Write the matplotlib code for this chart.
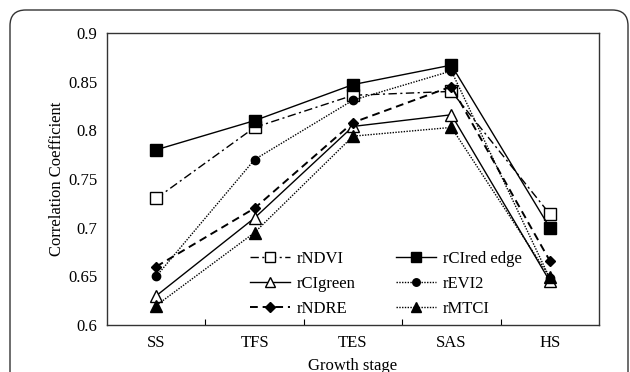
import matplotlib

matplotlib.use("Agg")
import matplotlib.pyplot as plt
from matplotlib.patches import FancyBboxPatch

plt.rcParams["font.family"] = ["Liberation Serif", "DejaVu Serif"]

stages = ["SS", "TFS", "TES", "SAS", "HS"]
r_ndvi = [0.730, 0.803, 0.836, 0.840, 0.714]
r_cired = [0.780, 0.810, 0.847, 0.867, 0.700]
r_cigreen = [0.630, 0.710, 0.804, 0.816, 0.645]
r_evi2 = [0.650, 0.770, 0.831, 0.861, 0.648]
r_ndre = [0.660, 0.720, 0.808, 0.845, 0.666]
r_mtci = [0.620, 0.695, 0.794, 0.803, 0.649]
y_ticks = [0.6, 0.65, 0.7, 0.75, 0.8, 0.85, 0.9]
y_labels = ["0.6", "0.65", "0.7", "0.75", "0.8", "0.85", "0.9"]

fig = plt.figure(figsize=(6.3, 3.72), dpi=100)
fig.patch.set_facecolor("white")

# rounded card frame around the figure
card = FancyBboxPatch(
    (10 / 630, -0.05),
    618 / 630,
    1 - 10 / 372 + 0.05,
    boxstyle="round,pad=0,rounding_size=0.025",
    transform=fig.transFigure,
    facecolor="none",
    edgecolor="#333333",
    linewidth=1.0,
    mutation_aspect=630 / 372,
)
fig.patches.append(card)

ax = fig.add_axes([107 / 630, 1 - 325 / 372, 492 / 630, 292 / 372])
x = list(range(len(stages)))
k = dict(color="black", linewidth=1.0)

h_ndvi, = ax.plot(x, r_ndvi, linestyle=(0, (6, 2.5, 1.5, 2.5)), marker="s", markersize=8,
                  markerfacecolor="white", markeredgecolor="black", label="rNDVI", **k)
h_cired, = ax.plot(x, r_cired, linestyle="-", marker="s", markersize=8,
                   markerfacecolor="black", markeredgecolor="black", label="rCIred edge", **k)
h_cigreen, = ax.plot(x, r_cigreen, linestyle="-", marker="^", markersize=8,
                     markerfacecolor="white", markeredgecolor="black", label="rCIgreen", **k)
h_evi2, = ax.plot(x, r_evi2, linestyle=(0, (1, 1)), marker="o", markersize=6,
                  markerfacecolor="black", markeredgecolor="black", label="rEVI2", **k)
h_ndre, = ax.plot(x, r_ndre, linestyle=(0, (4, 2.5)), marker="D", markersize=5.5,
                  markerfacecolor="black", markeredgecolor="black", label="rNDRE", color="black", linewidth=1.4)
h_mtci, = ax.plot(x, r_mtci, linestyle=(0, (1, 1)), marker="^", markersize=8,
                  markerfacecolor="black", markeredgecolor="black", label="rMTCI", **k)

ax.set_xlim(-0.5, 4.5)
ax.set_ylim(0.6, 0.9)
ax.set_yticks(y_ticks)
ax.set_yticklabels(y_labels)
ax.set_xticks(x)
ax.set_xticklabels(stages)
ax.set_xticks([0.5, 1.5, 2.5, 3.5], minor=True)
ax.tick_params(axis="x", which="major", length=0, pad=7, labelsize=12)
ax.tick_params(axis="x", which="minor", direction="in", length=4, width=0.8)
ax.tick_params(axis="y", length=0, pad=7, labelsize=12)
for s in ax.spines.values():
    s.set_linewidth(1.0)
    s.set_color("#333333")

ax.set_ylabel("Correlation Coefficient", fontsize=12, labelpad=2)
ax.set_xlabel("Growth stage", fontsize=12, labelpad=5)

handles = [h_ndvi, h_cigreen, h_ndre, h_cired, h_evi2, h_mtci]
ax.legend(
    handles=handles,
    labels=[h.get_label() for h in handles],
    ncol=2,
    frameon=False,
    fontsize=12,
    loc="lower left",
    bbox_to_anchor=(0.26, -0.025),
    handlelength=2.4,
    handletextpad=0.4,
    columnspacing=2.45,
    labelspacing=0.55,
    markerscale=0.9,
)

fig.savefig("out.png", dpi=100)
